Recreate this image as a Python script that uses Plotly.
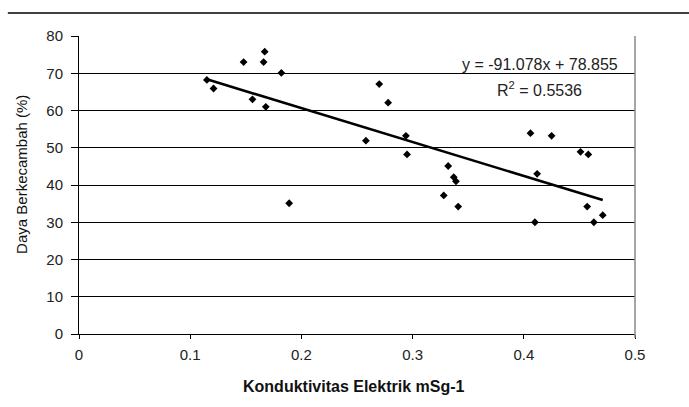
import plotly.graph_objects as go

# Data
konduktivitas = [0.115, 0.121, 0.148, 0.167, 0.166, 0.182, 0.156, 0.168, 0.189,
                 0.270, 0.278, 0.258, 0.294, 0.295, 0.332, 0.337, 0.339, 0.328,
                 0.341, 0.406, 0.425, 0.451, 0.458, 0.412, 0.457, 0.471, 0.410, 0.463]
daya_berkecambah = [68.2, 65.9, 73.0, 75.8, 73.0, 70.1, 63.0, 61.0, 35.1,
                    67.1, 62.1, 51.9, 53.2, 48.2, 45.1, 42.1, 41.0, 37.2,
                    34.2, 53.9, 53.2, 48.9, 48.2, 43.0, 34.2, 31.9, 30.0, 30.0]

# Linear trendline as printed on the chart
slope = -91.078
intercept = 78.855
r_squared = 0.5536

x_ticks = [0, 0.1, 0.2, 0.3, 0.4, 0.5]
y_ticks = [0, 10, 20, 30, 40, 50, 60, 70, 80]

x_title = "Konduktivitas Elektrik mSg-1"
y_title = "Daya Berkecambah (%)"

x_min, x_max = min(konduktivitas), max(konduktivitas)
trend_x = [x_min, x_max]
trend_y = [slope * v + intercept for v in trend_x]

font_family = "Liberation Sans, Arial, sans-serif"

fig = go.Figure()
fig.add_trace(go.Scatter(
    x=konduktivitas, y=daya_berkecambah, mode="markers",
    marker=dict(symbol="diamond", size=6, color="black"),
    showlegend=False, hoverinfo="x+y"))
fig.add_trace(go.Scatter(
    x=trend_x, y=trend_y, mode="lines",
    line=dict(color="black", width=2.6),
    showlegend=False, hoverinfo="skip"))

fig.update_layout(
    width=689, height=407,
    margin=dict(l=79, r=54, t=36, b=73),
    paper_bgcolor="white", plot_bgcolor="white",
    font=dict(family=font_family, size=15, color="#222"),
    xaxis=dict(range=[0, 0.5], tickvals=x_ticks,
               ticktext=[("%g" % v) for v in x_ticks],
               showgrid=False, zeroline=False,
               showline=True, linecolor="black", linewidth=1,
               ticks="outside", ticklen=4, tickcolor="black",
               ticklabelstandoff=3,
               tickfont=dict(size=15, color="#222")),
    yaxis=dict(range=[0, 80], tickvals=y_ticks,
               showgrid=True, gridcolor="black", gridwidth=1,
               zeroline=False,
               showline=True, linecolor="black", linewidth=1,
               ticks="outside", ticklen=7, tickcolor="black",
               ticklabelstandoff=5,
               tickfont=dict(size=15, color="#222")),
    shapes=[
        # gray right border of plot area
        dict(type="line", xref="paper", yref="paper", x0=1, x1=1, y0=-0.013, y1=1,
             line=dict(color="#888", width=1.5)),
        # top rule across the page
        dict(type="line", xref="paper", yref="paper", x0=-0.128, x1=1.1,
             y0=1.077, y1=1.077, line=dict(color="black", width=1.5)),
    ],
    annotations=[
        dict(text="y = %.3fx + %.3f" % (slope, intercept), xref="paper", yref="paper",
             x=0.829, y=0.903, xanchor="center", yanchor="middle", showarrow=False,
             font=dict(size=16, color="#222")),
        dict(text="R<sup>2</sup> = %.4f" % r_squared, xref="paper", yref="paper",
             x=0.829, y=0.822, xanchor="center", yanchor="middle", showarrow=False,
             font=dict(size=16, color="#222")),
        dict(text="<b>%s</b>" % x_title, xref="paper", yref="paper",
             x=0.493, y=-0.1745, xanchor="center", yanchor="middle", showarrow=False,
             font=dict(size=16, color="#111")),
        dict(text=y_title, xref="paper", yref="paper", textangle=-90,
             x=-0.1025, y=0.534, xanchor="center", yanchor="middle", showarrow=False,
             font=dict(size=15, color="#111")),
    ],
)

fig.write_html("out.html")
